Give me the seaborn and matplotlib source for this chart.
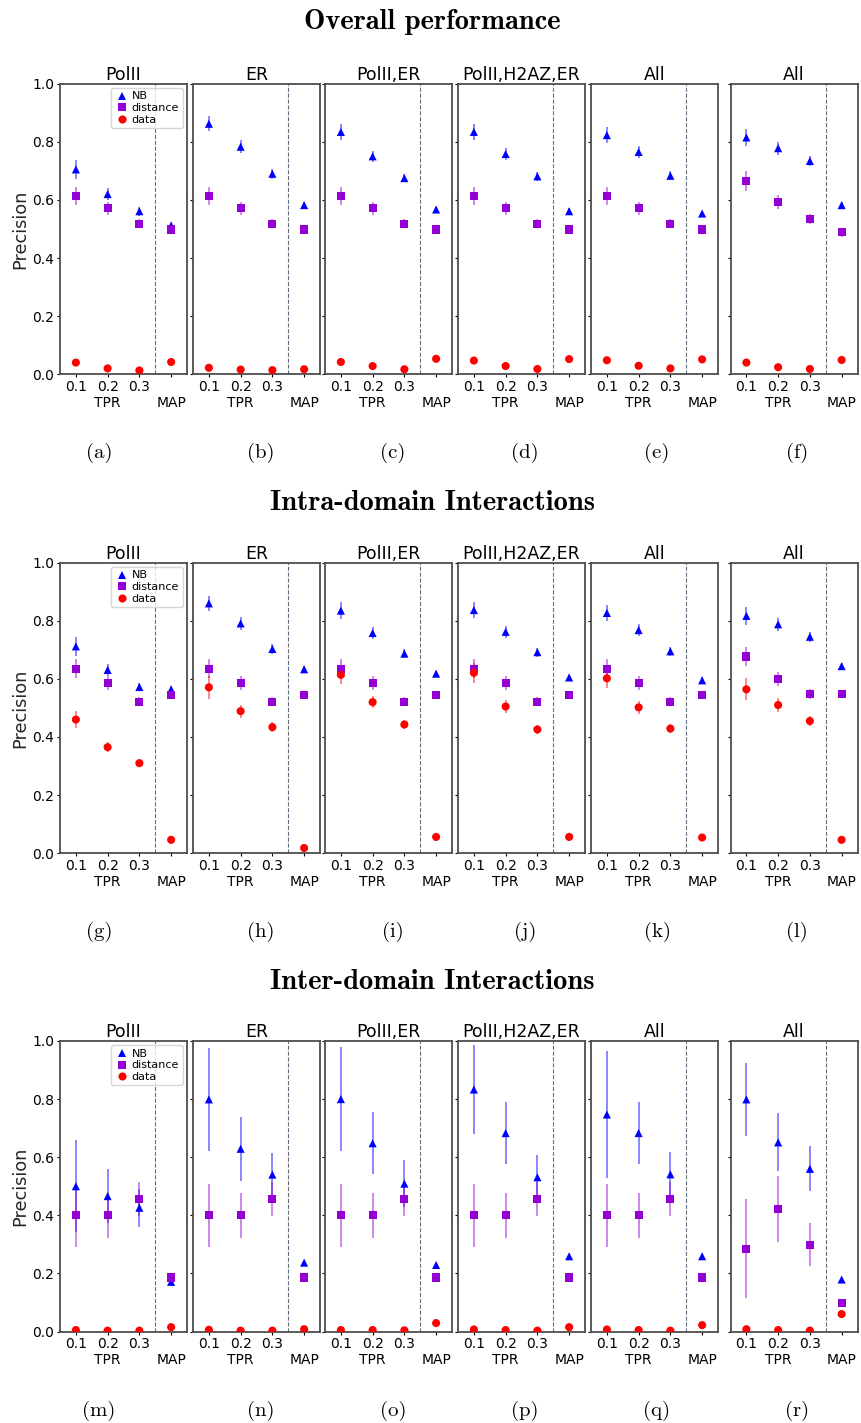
import os
import matplotlib
matplotlib.use("Agg")
import numpy as np
import pandas as pd
import matplotlib.pyplot as plt
from matplotlib.font_manager import FontProperties
import seaborn as sns

# ---- data ----
sections = ["Overall performance", "Intra-domain Interactions", "Inter-domain Interactions"]
panel_titles = ["PolII", "ER", "PolII,ER", "PolII,H2AZ,ER", "All", "All"]
x_labels = ["0.1", "0.2\nTPR", "0.3", "\nMAP"]
methods = ["NB", "distance", "data"]

# overall performance
overall_nb = [[0.705, 0.620, 0.561, 0.512], [0.862, 0.783, 0.690, 0.582],
              [0.834, 0.750, 0.675, 0.567], [0.834, 0.758, 0.681, 0.561],
              [0.823, 0.765, 0.683, 0.553], [0.815, 0.778, 0.734, 0.582]]
overall_nb_err = [[0.032, 0.022, 0.015, 0.010], [0.026, 0.022, 0.017, 0.012],
                  [0.028, 0.020, 0.015, 0.010], [0.028, 0.020, 0.015, 0.010],
                  [0.028, 0.020, 0.015, 0.010], [0.030, 0.022, 0.018, 0.010]]
overall_dist = [[0.613, 0.571, 0.518, 0.498]] * 5 + [[0.665, 0.594, 0.535, 0.488]]
overall_dist_err = [[0.032, 0.023, 0.015, 0.012]] * 5 + [[0.034, 0.024, 0.017, 0.014]]
overall_data = [[0.040, 0.020, 0.013, 0.042], [0.022, 0.016, 0.014, 0.017],
                [0.042, 0.028, 0.017, 0.053], [0.047, 0.028, 0.018, 0.052],
                [0.048, 0.029, 0.020, 0.051], [0.040, 0.024, 0.018, 0.049]]
overall_data_err = [[0.004, 0.003, 0.003, 0.003]] * 6

# intra-domain
intra_nb = [[0.712, 0.631, 0.572, 0.564], [0.860, 0.791, 0.703, 0.633],
            [0.835, 0.758, 0.687, 0.618], [0.837, 0.762, 0.692, 0.605],
            [0.827, 0.768, 0.695, 0.595], [0.817, 0.788, 0.745, 0.644]]
intra_nb_err = [[0.032, 0.022, 0.015, 0.010], [0.026, 0.022, 0.017, 0.012],
                [0.028, 0.020, 0.015, 0.010], [0.028, 0.020, 0.015, 0.010],
                [0.028, 0.020, 0.015, 0.010], [0.030, 0.022, 0.018, 0.010]]
intra_dist = [[0.635, 0.586, 0.522, 0.544]] * 5 + [[0.677, 0.600, 0.548, 0.549]]
intra_dist_err = [[0.032, 0.023, 0.015, 0.012]] * 5 + [[0.034, 0.024, 0.017, 0.014]]
intra_data = [[0.460, 0.365, 0.310, 0.046], [0.571, 0.489, 0.434, 0.018],
              [0.614, 0.520, 0.443, 0.056], [0.621, 0.505, 0.426, 0.056],
              [0.602, 0.502, 0.429, 0.054], [0.564, 0.510, 0.455, 0.046]]
intra_data_err = [[0.030, 0.017, 0.010, 0.004], [0.040, 0.022, 0.018, 0.003],
                  [0.030, 0.020, 0.015, 0.004], [0.035, 0.022, 0.015, 0.004],
                  [0.033, 0.022, 0.015, 0.004], [0.038, 0.024, 0.017, 0.004]]

# inter-domain
inter_nb = [[0.500, 0.466, 0.426, 0.171], [0.799, 0.629, 0.540, 0.237],
            [0.800, 0.648, 0.509, 0.229], [0.833, 0.683, 0.531, 0.259],
            [0.747, 0.683, 0.541, 0.259], [0.799, 0.651, 0.560, 0.179]]
inter_nb_err = [[0.158, 0.092, 0.065, 0.005], [0.178, 0.110, 0.075, 0.006],
                [0.178, 0.107, 0.080, 0.006], [0.153, 0.107, 0.078, 0.006],
                [0.217, 0.107, 0.077, 0.006], [0.126, 0.100, 0.078, 0.006]]
inter_dist = [[0.400, 0.400, 0.456, 0.186]] * 5 + [[0.285, 0.421, 0.299, 0.097]]
inter_dist_err = [[0.109, 0.078, 0.058, 0.006]] * 5 + [[0.170, 0.113, 0.073, 0.006]]
inter_data = [[0.005, 0.003, 0.003, 0.015], [0.006, 0.003, 0.003, 0.008],
              [0.005, 0.005, 0.004, 0.029], [0.007, 0.005, 0.003, 0.015],
              [0.007, 0.005, 0.003, 0.022], [0.008, 0.005, 0.003, 0.060]]
inter_data_err = [[0.003, 0.002, 0.002, 0.003]] * 6

series = {
    0: {"NB": (overall_nb, overall_nb_err), "distance": (overall_dist, overall_dist_err),
        "data": (overall_data, overall_data_err)},
    1: {"NB": (intra_nb, intra_nb_err), "distance": (intra_dist, intra_dist_err),
        "data": (intra_data, intra_data_err)},
    2: {"NB": (inter_nb, inter_nb_err), "distance": (inter_dist, inter_dist_err),
        "data": (inter_data, inter_data_err)},
}

rows = []
for s, d in series.items():
    for m in methods:
        vals, errs = d[m]
        for p in range(6):
            for k, lab in enumerate(x_labels):
                rows.append(dict(section=s, panel=p, method=m, pos=k,
                                 value=vals[p][k], err=errs[p][k]))
df = pd.DataFrame(rows)

colors = {"NB": "blue", "distance": "darkviolet", "data": "red"}
markers = {"NB": "^", "distance": "s", "data": "o"}

# ---- style ----
sns.set_style("ticks")
plt.rcParams["font.family"] = ["DejaVu Sans"]
plt.rcParams["text.color"] = "black"
plt.rcParams["xtick.color"] = "black"
plt.rcParams["ytick.color"] = "black"

ttf_dir = os.path.join(matplotlib.get_data_path(), "fonts", "ttf")
cm_bold = FontProperties(fname=os.path.join(ttf_dir, "cmb10.ttf"), size=20.5)
cm_roman = FontProperties(fname=os.path.join(ttf_dir, "cmr10.ttf"), size=15)

W, H = 861, 1423
fig = plt.figure(figsize=(W / 100, H / 100), dpi=100)

lefts = [60, 193, 325, 458, 591, 730.5]
aw, ah = 127, 290.5
tops = [83.7, 562.7, 1041.0]
sec_baseline = [29, 510, 989]
cap_baseline = [458, 937, 1416]
cap_x = [99, 261, 393, 525, 657, 797]
letters = "abcdefghijklmnopqr"

for r in range(3):
    fig.text(432 / W, 1 - sec_baseline[r] / H, sections[r], ha="center",
             va="baseline", fontproperties=cm_bold)
    for c in range(6):
        ax = fig.add_axes([lefts[c] / W, 1 - (tops[r] + ah) / H, aw / W, ah / H])
        sub = df[(df.section == r) & (df.panel == c)]
        for m in methods:
            sm = sub[sub.method == m]
            ax.errorbar(sm.pos, sm.value, yerr=sm.err, fmt="none", ecolor=colors[m],
                        alpha=0.5, elinewidth=1.3, capsize=0, zorder=2)
        sns.scatterplot(data=sub, x="pos", y="value", hue="method", style="method",
                        hue_order=methods, style_order=methods, palette=colors,
                        markers=markers, s=34, linewidth=0, ax=ax, zorder=3,
                        legend=(c == 0))
        ax.axvline(2.5, ls="--", color="#61707f", lw=0.8, zorder=1)
        ax.set_xlim(-0.5, 3.5)
        ax.set_ylim(0, 1)
        ax.set_xticks(range(len(x_labels)))
        ax.set_xticklabels(x_labels)
        ax.set_yticks(np.arange(0, 1.01, 0.2))
        ax.tick_params(length=2.5, width=0.8, pad=1.5, labelsize=10)
        ax.set_xlabel("")
        for sp in ax.spines.values():
            sp.set_visible(True)
            sp.set_color("0.3")
            sp.set_linewidth(1.3)
        if c == 0:
            ax.set_yticklabels([f"{v:.1f}" for v in np.arange(0, 1.01, 0.2)])
            ax.set_ylabel("Precision", fontsize=12.8, labelpad=2)
            sns.move_legend(ax, "upper right", title=None, fontsize=8, frameon=True,
                            handletextpad=0.1, borderpad=0.3, labelspacing=0.15,
                            borderaxespad=0.4, handlelength=1.5)
        else:
            ax.set_ylabel("")
            ax.tick_params(labelleft=False)
        ax.set_title(panel_titles[c], fontsize=12.5, pad=2.5)
        fig.text(cap_x[c] / W, 1 - cap_baseline[r] / H, f"({letters[r * 6 + c]})",
                 ha="center", va="baseline", fontproperties=cm_roman)

fig.savefig("out.png", dpi=100)
